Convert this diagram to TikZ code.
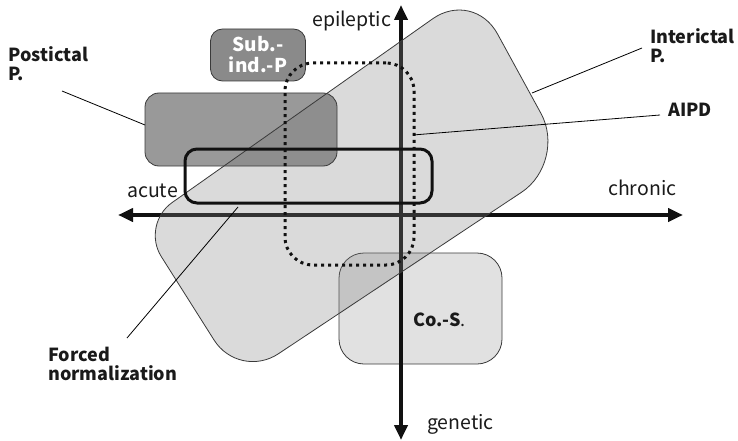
\documentclass[tikz,border=0pt]{standalone}
\usepackage{fontspec}
\setmainfont{Noto Sans CJK JP}
\usetikzlibrary{arrows.meta,calc}
\definecolor{txt}{HTML}{1A1A1A}
\definecolor{axc}{HTML}{111111}
\definecolor{ictfill}{gray}{0.517}
\definecolor{postfill}{gray}{0.447}
\definecolor{subfill}{HTML}{8A8A8A}
\definecolor{cosfill}{HTML}{E1E1E1}
\definecolor{edgec}{HTML}{3A3A3A}
\newcommand\ictpath{($(ictL)!38pt!(ictT)$) -- ($(ictT)!50pt!(ictL)$)
  .. controls ($(ictT)!22pt!(ictL)$) and ($(ictT)!22pt!(ictR)$) .. ($(ictT)!50pt!(ictR)$)
  -- ($(ictR)!55pt!(ictT)$)
  .. controls ($(ictR)!25pt!(ictT)$) and ($(ictR)!25pt!(ictB)$) .. ($(ictR)!55pt!(ictB)$)
  -- ($(ictB)!47pt!(ictR)$)
  .. controls ($(ictB)!21pt!(ictR)$) and ($(ictB)!21pt!(ictL)$) .. ($(ictB)!47pt!(ictL)$)
  -- ($(ictL)!38pt!(ictB)$)
  .. controls ($(ictL)!17pt!(ictB)$) and ($(ictL)!17pt!(ictT)$) .. ($(ictL)!38pt!(ictT)$)
  -- cycle}
\begin{document}
\begin{tikzpicture}[x=1pt,y=-1pt,
  bold/.style={font=\fontsize{18}{19}\selectfont\bfseries, text=txt, inner sep=0pt, align=left},
  axlbl/.style={font=\fontsize{19.5}{20}\selectfont, text=txt, inner sep=0pt, anchor=base west},
  leader/.style={draw=black, line width=0.8pt},
  axis/.style={line width=4.2pt, draw=axc, {Triangle[length=15pt,width=13pt]}-{Triangle[length=15pt,width=13pt]}},
  box/.style={draw=edgec, line width=0.8pt, inner sep=0pt}]
\useasboundingbox (0,0) rectangle (738,441);
% corner points of the interictal region
\coordinate (ictL) at (141,224.5);
\coordinate (ictT) at (473.5,-10);
\coordinate (ictR) at (567.4,161.8);
\coordinate (ictB) at (239.2,379.8);
% Co.-S. box
\node[box, fill=cosfill, minimum width=163pt, minimum height=111pt, rounded corners=25pt] (cos) at (420.5,308.5) {};
% axes
\coordinate (axL) at (118,215);
\coordinate (axR) at (683,215);
\coordinate (axT) at (401,5);
\coordinate (axB) at (401,440);
\draw[axis] (axL) -- (axR);
\draw[axis] (axT) -- (axB);
% interictal fill
\fill[ictfill, fill opacity=0.3] \ictpath;
% postictal box
\node[box, fill=postfill, fill opacity=0.724, minimum width=192pt, minimum height=73pt, rounded corners=14pt] (post) at (241,129.5) {};
% interictal outline
\draw[edgec, line width=0.8pt] \ictpath;
% sub.-ind.-P box
\node[box, fill=subfill, minimum width=95pt, minimum height=52pt, rounded corners=12pt,
  font=\fontsize{19}{21}\selectfont\bfseries, text=white, align=center] (sub) at (258,55) {Sub.-\\ind.-P};
% forced normalization box
\node[draw=axc, line width=3pt, inner sep=0pt, minimum width=247pt, minimum height=54pt, rounded corners=12pt] (forced) at (308.5,176) {};
% AIPD dotted box
\node[draw=axc, line width=3pt, dash pattern=on 3pt off 4pt, inner sep=0pt, minimum width=129pt, minimum height=202pt, rounded corners=28pt] (aipd) at (349.5,164) {};
% axis labels
\node[axlbl] (epi) at (312,27) {epileptic};
\node[axlbl] (acu) at (127,197) {acute};
\node[axlbl] (chr) at (608,195) {chronic};
\node[axlbl] (gen) at (427,429) {genetic};
% region labels
\node[bold, anchor=north west] (postlbl) at (8,46) {Postictal\\P.};
\node[bold, anchor=north west] (ictlbl) at (650,28) {Interictal\\P.};
\node[bold, anchor=base west] (aipdlbl) at (668,117) {AIPD};
\node[bold, anchor=north west] (forcedlbl) at (48,347) {Forced\\normalization};
\node[bold, anchor=base west] (coslbl) at (413,326) {Co.-S{\mdseries .}};
% leader lines
\coordinate (pl1) at (62,91);  \coordinate (pl2) at (145,125);
\coordinate (il1) at (642,48); \coordinate (il2) at (532,93);
\coordinate (al1) at (660,115); \coordinate (al2) at (413,135);
\coordinate (fl1) at (127,338); \coordinate (fl2) at (238,207);
\draw[leader] (pl1) -- (pl2);
\draw[leader] (il1) -- (il2);
\draw[leader] (al1) -- (al2);
\draw[leader] (fl1) -- (fl2);
\end{tikzpicture}
\end{document}
